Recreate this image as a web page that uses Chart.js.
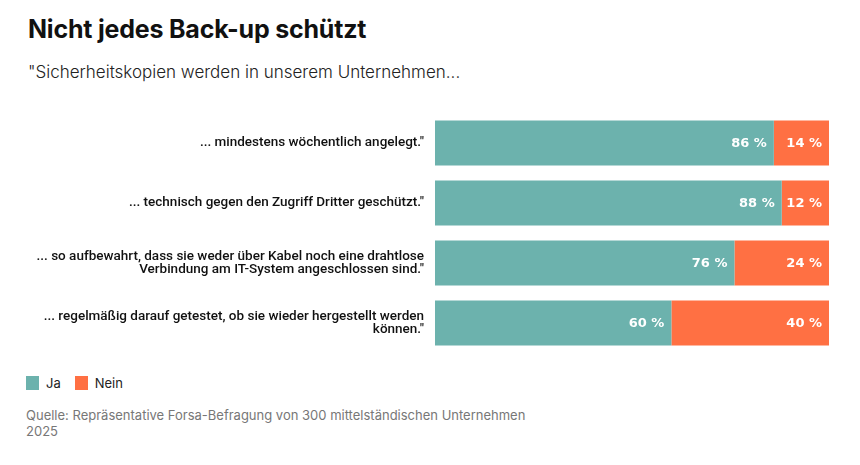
<!DOCTYPE html>
<html lang="de">
<head>
<meta charset="utf-8">
<title>Nicht jedes Back-up schützt</title>
<script src="https://cdn.jsdelivr.net/npm/chart.js@4.4.1/dist/chart.umd.min.js"></script>
<style>
  html, body { margin: 0; padding: 0; background: #ffffff; }
  body { width: 860px; height: 465px; position: relative; overflow: hidden; font-family: "Inter", "Noto Sans", sans-serif; color: #111; }
  h1 { position: absolute; left: 28px; top: 14px; margin: 0; font-size: 25px; font-weight: 700; letter-spacing: -0.2px; }
  .sub { position: absolute; left: 28px; top: 62px; margin: 0; font-size: 17px; font-weight: 300; color: #222; }
  .chart-box { position: absolute; left: 0; top: 113px; width: 860px; height: 240px; }
  .legend { position: absolute; left: 26px; top: 375px; font-size: 13px; color: #222; display: flex; align-items: center; }
  .legend span.sw { display: inline-block; width: 13px; height: 14px; margin-right: 7px; }
  .legend .item { display: flex; align-items: center; margin-right: 14px; }
  .source { position: absolute; left: 26px; top: 407px; width: 500px; font-size: 13px; line-height: 16px; color: #777; }
</style>
</head>
<body>
<h1>Nicht jedes Back-up schützt</h1>
<p class="sub">"Sicherheitskopien werden in unserem Unternehmen...</p>
<div class="chart-box"><canvas id="backupChart"></canvas></div>
<div class="legend">
  <div class="item"><span class="sw" style="background:#6cb2ad"></span>Ja</div>
  <div class="item"><span class="sw" style="background:#ff7043"></span>Nein</div>
</div>
<div class="source">Quelle: Repräsentative Forsa-Befragung von 300 mittelständischen Unternehmen 2025</div>

<script>
"use strict";

/* ---------- data ---------- */
const categories = [
  ["... mindestens wöchentlich angelegt.\""],
  ["... technisch gegen den Zugriff Dritter geschützt.\""],
  ["... so aufbewahrt, dass sie weder über Kabel noch eine drahtlose", "Verbindung am IT-System angeschlossen sind.\""],
  ["... regelmäßig darauf getestet, ob sie wieder hergestellt werden", "können.\""]
];
const jaValues = [86, 88, 76, 60];
const neinValues = [14, 12, 24, 40];

const JA_COLOR = "#6cb2ad";
const NEIN_COLOR = "#ff7043";

/* ---------- value labels inside bars ---------- */
const valueLabels = {
  id: "valueLabels",
  afterDatasetsDraw(chart) {
    const ctx = chart.ctx;
    ctx.save();
    ctx.font = "bold 13px 'DejaVu Sans', sans-serif";
    ctx.fillStyle = "#ffffff";
    ctx.textAlign = "right";
    ctx.textBaseline = "middle";
    chart.data.datasets.forEach((ds, i) => {
      chart.getDatasetMeta(i).data.forEach((bar, j) => {
        ctx.fillText(ds.data[j] + " %", bar.x - 7, bar.y + 1);
      });
    });
    ctx.restore();
  }
};

new Chart(document.getElementById("backupChart"), {
  type: "bar",
  data: {
    labels: categories,
    datasets: [
      { label: "Ja", data: jaValues, backgroundColor: JA_COLOR, borderWidth: 0 },
      { label: "Nein", data: neinValues, backgroundColor: NEIN_COLOR, borderWidth: 0 }
    ]
  },
  options: {
    indexAxis: "y",
    responsive: true,
    maintainAspectRatio: false,
    animation: false,
    barPercentage: 1,
    categoryPercentage: 0.75,
    layout: { padding: { left: 0, right: 31, top: 0, bottom: 0 } },
    plugins: {
      legend: { display: false },
      tooltip: { enabled: false }
    },
    scales: {
      x: {
        stacked: true,
        min: 0,
        max: 100,
        display: false
      },
      y: {
        stacked: true,
        grid: { display: false, drawTicks: false },
        border: { display: false },
        ticks: {
          color: "#111",
          padding: 11,
          font: { family: "Roboto", weight: "500", size: 13.5, lineHeight: 1.0 }
        },
        afterFit(axis) {
          axis.width = 435;
          axis.paddingTop = 0;
          axis.paddingBottom = 0;
        }
      }
    }
  },
  plugins: [valueLabels]
});
</script>
</body>
</html>
